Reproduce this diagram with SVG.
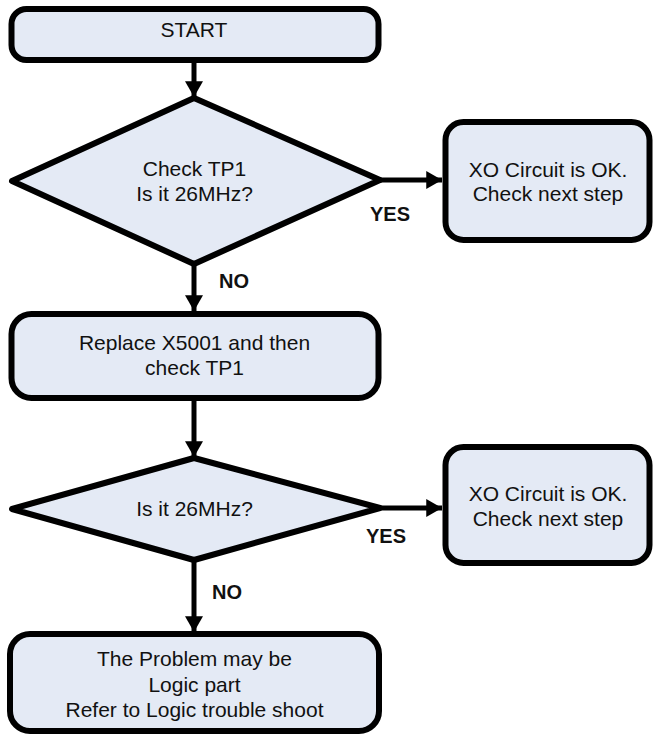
<svg xmlns="http://www.w3.org/2000/svg" width="654" height="736" viewBox="0 0 654 736">
<defs>
<style>
.box{fill:#E4EAF5;stroke:#000;stroke-width:6;stroke-linejoin:round}
.t{font-family:"Liberation Sans",Arial,sans-serif;font-size:21px;fill:#111;text-anchor:middle}
.lb{font-family:"Liberation Sans",Arial,sans-serif;font-size:20px;font-weight:bold;fill:#111;text-anchor:middle}
.c{stroke:#000;stroke-width:5;fill:none}
</style>
<marker id="ah" markerUnits="userSpaceOnUse" markerWidth="18" markerHeight="18" viewBox="0 0 14 16" refX="14" refY="8" orient="auto">
<path d="M0,0 L14,8 L0,16 Z" fill="#000"/>
</marker>
</defs>
<rect width="654" height="736" fill="#fff"/>
<g id="connectors">
<line class="c" x1="194" y1="62" x2="194" y2="97" marker-end="url(#ah)"/>
<line class="c" x1="194" y1="264" x2="194" y2="311" marker-end="url(#ah)"/>
<line class="c" x1="194" y1="399" x2="194" y2="457" marker-end="url(#ah)"/>
<line class="c" x1="194" y1="560" x2="194" y2="632" marker-end="url(#ah)"/>
<line class="c" x1="380" y1="180" x2="442" y2="180" marker-end="url(#ah)"/>
<line class="c" x1="380" y1="508" x2="442" y2="508" marker-end="url(#ah)"/>
</g>
<g id="start">
<rect class="box" x="11.5" y="9" width="367" height="51" rx="15"/>
<text class="t" x="194" y="37">START</text>
</g>
<g id="check1">
<polygon class="box" points="194,98 380,180 194,264 12,181"/>
<text class="t" x="194.5" y="176">Check TP1</text>
<text class="t" x="194.5" y="201">Is it 26MHz?</text>
</g>
<g id="ok1">
<rect class="box" x="445.5" y="122" width="204" height="118" rx="18"/>
<text class="t" x="548" y="177">XO Circuit is OK.</text>
<text class="t" x="548" y="201">Check next step</text>
</g>
<g id="replace">
<rect class="box" x="11.5" y="314" width="367" height="84" rx="20"/>
<text class="t" x="194.5" y="350">Replace X5001 and then</text>
<text class="t" x="194.5" y="375">check TP1</text>
</g>
<g id="check2">
<polygon class="box" points="194,458 380,508 194,560 12,509"/>
<text class="t" x="194.5" y="516">Is it 26MHz?</text>
</g>
<g id="ok2">
<rect class="box" x="445.5" y="447" width="204" height="116" rx="18"/>
<text class="t" x="548" y="501">XO Circuit is OK.</text>
<text class="t" x="548" y="526">Check next step</text>
</g>
<g id="logic">
<rect class="box" x="10" y="634" width="369" height="97" rx="20"/>
<text class="t" x="194.5" y="666">The Problem may be</text>
<text class="t" x="194.5" y="692">Logic part</text>
<text class="t" x="194.5" y="717">Refer to Logic trouble shoot</text>
</g>
<g id="labels">
<text class="lb" x="390" y="221">YES</text>
<text class="lb" x="234" y="288">NO</text>
<text class="lb" x="386" y="543">YES</text>
<text class="lb" x="227" y="599">NO</text>
</g>
</svg>
